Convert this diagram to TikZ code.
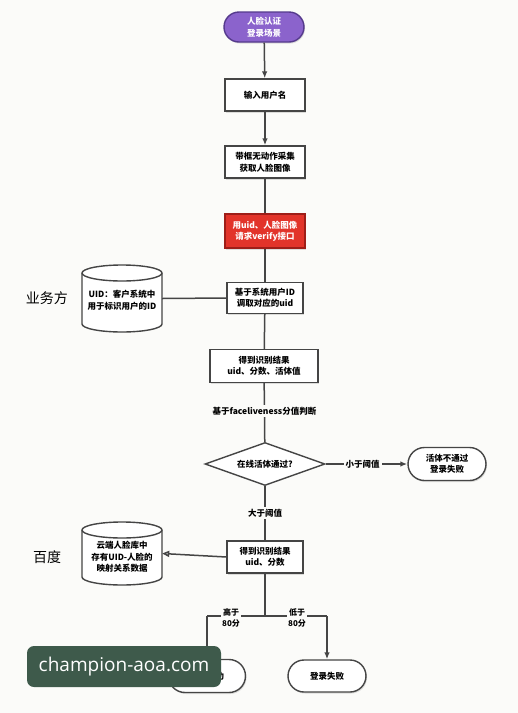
\documentclass[tikz,border=0pt]{standalone}
\usepackage{fontspec}
\setmainfont{Noto Sans CJK SC}
\newfontfamily\wmfont{Open Sans}
\usetikzlibrary{shapes.geometric,shapes.misc,arrows.meta,shadows}
\definecolor{bgc}{HTML}{FBFBF9}
\definecolor{linec}{HTML}{454545}
\definecolor{purp}{HTML}{8B63CC}
\definecolor{purpd}{HTML}{553A8C}
\definecolor{redf}{HTML}{E2342A}
\definecolor{redd}{HTML}{9E1E18}
\definecolor{wmc}{HTML}{3E5A4B}
\tikzset{
  txt/.style={font=\bfseries\fontsize{8.5}{11.5}\selectfont},
  shad/.style={drop shadow={shadow xshift=1pt,shadow yshift=-1.5pt,opacity=0.25}},
  stepbox/.style={rectangle,draw=linec,line width=1.4pt,fill=white,shad,minimum width=80pt,minimum height=32pt,inner sep=1pt,align=center,txt},
  stadium/.style={rounded rectangle,draw=linec,line width=1.4pt,fill=white,shad,minimum width=80pt,minimum height=33pt,inner sep=1pt,align=center,txt},
  conn/.style={draw=linec,line width=1.5pt},
  arr/.style={conn,-{Latex[length=7pt,width=5.5pt]}},
  lbl/.style={fill=bgc,inner sep=2pt,align=center,txt},
  side/.style={font=\fontsize{14}{16}\selectfont}
}
\begin{document}
\begin{tikzpicture}[x=1pt,y=1pt]
\fill[bgc] (0,0) rectangle (518,-713);
\useasboundingbox (0,0) rectangle (518,-713);

\node[stadium,fill=purp,draw=purpd,text=white,minimum width=82pt,minimum height=30pt] (start) at (264,-27) {人脸认证\\登录场景};
\node[stepbox] (n1) at (265,-95) {输入用户名};
\node[stepbox] (n2) at (265,-162) {带框无动作采集\\获取人脸图像};
\node[stepbox,fill=redf,draw=redd,text=white,minimum height=34pt] (n3) at (265,-231) {用uid、人脸图像\\请求verify接口};
\node[stepbox,minimum width=76pt,minimum height=31pt] (n4) at (265,-298) {基于系统用户ID\\调取对应的uid};
\node[stepbox,minimum width=108pt,minimum height=33pt] (n5) at (264,-366) {得到识别结果\\uid、分数、活体值};
\node[diamond,draw=linec,line width=1.4pt,fill=white,aspect=2.8,inner sep=0pt,minimum width=120pt,minimum height=43pt,txt] (dec) at (265,-464) {在线活体通过?};
\node[stadium] (fail1) at (447,-464) {活体不通过\\登录失败};
\node[stepbox,minimum width=76pt,minimum height=32pt] (n6) at (265,-557) {得到识别结果\\uid、分数};
\node[stadium,minimum width=79pt] (ok) at (207,-676) {登录成功};
\node[stadium,minimum height=32pt] (fail2) at (327,-676) {登录失败};

% cylinders
\node[inner sep=0pt,minimum width=80pt,minimum height=67pt] (db1) at (122,-298.5) {};
\draw[linec,line width=1.4pt,fill=white] (82,-273) -- (82,-324) arc[start angle=180,end angle=360,x radius=40,y radius=8] -- (162,-273) arc[start angle=0,end angle=180,x radius=40,y radius=8] -- cycle;
\draw[linec,line width=1.4pt] (82,-273) arc[start angle=180,end angle=360,x radius=40,y radius=8];
\node[align=center,txt] at (122,-300) {UID：客户系统中\\用于标识用户的ID};

\node[inner sep=0pt,minimum width=80pt,minimum height=63pt] (db2) at (122,-553.5) {};
\draw[linec,line width=1.4pt,fill=white] (82,-530) -- (82,-577) arc[start angle=180,end angle=360,x radius=40,y radius=8] -- (162,-530) arc[start angle=0,end angle=180,x radius=40,y radius=8] -- cycle;
\draw[linec,line width=1.4pt] (82,-530) arc[start angle=180,end angle=360,x radius=40,y radius=8];
\node[align=center,txt] at (122,-557) {云端人脸库中\\存有UID-人脸的\\映射关系数据};

\node[side] (side1) at (47,-298) {业务方};
\node[side] (side2) at (47,-557) {百度};

% connectors
\draw[arr] (start) -- (n1);
\draw[arr] (n1) -- (n2);
\draw[conn] (n2) -- (n3);
\draw[conn] (n3) -- (n4);
\draw[conn] (db1.east) -- (n4.west);
\draw[conn] (n4) -- (n5);
\draw[conn] (n5) -- (dec) node[lbl,pos=0.48] (l1) {基于faceliveness分值判断};
\draw[arr] (dec.east) -- (fail1.west) node[lbl,midway,xshift=-4pt] (l2) {小于阈值};
\draw[conn] (dec.south) -- (n6.north) node[lbl,midway] (l3) {大于阈值};
\draw[conn,-{Triangle[open,length=7pt,width=6pt]}] (n6.west) -- (db2.east);
\coordinate (b) at (265,-616);
\coordinate (bl) at (207,-616);
\coordinate (br) at (327,-616);
\draw[conn] (n6.south) -- (b);
\draw[conn] (bl) -- (br);
\draw[arr] (bl) -- (ok.north);
\draw[arr] (br) -- (fail2.north);
\node[lbl,inner sep=1.5pt,font=\bfseries\fontsize{8}{10.5}\selectfont] (l4) at (231,-618) {高于\\80分};
\node[lbl,inner sep=1.5pt,font=\bfseries\fontsize{8}{10.5}\selectfont] (l5) at (297,-618) {低于\\80分};

% watermark
\node[fill=wmc,rounded corners=7pt,minimum width=194pt,minimum height=41pt,text=white,font=\wmfont\fontsize{19}{22}\selectfont] (wm) at (124,-666.5) {champion-aoa.com};
\end{tikzpicture}
\end{document}
